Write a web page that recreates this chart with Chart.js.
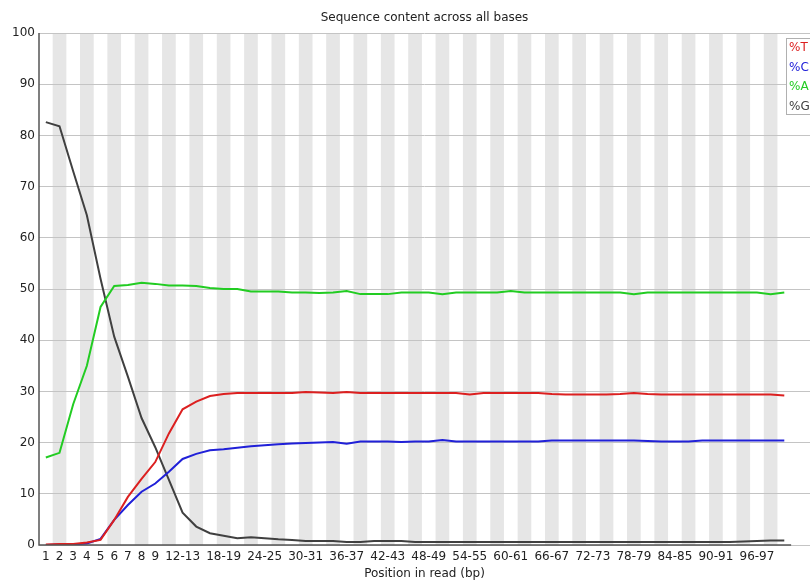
<!DOCTYPE html>
<html>
<head>
<meta charset="utf-8">
<title>Sequence content across all bases</title>
<script src="https://cdn.jsdelivr.net/npm/chart.js@4.4.1/dist/chart.umd.min.js"></script>
<style>
  html, body { margin: 0; padding: 0; background: #fff; }
  #wrap { width: 810px; height: 581px; position: relative; }
</style>
</head>
<body>
<div id="wrap"><canvas id="contentChart"></canvas></div>
<script>
const positions = [
  "1", "2", "3", "4", "5", "6", "7", "8", "9",
  "10-11", "12-13", "14-15", "16-17", "18-19", "20-21", "22-23", "24-25", "26-27", "28-29",
  "30-31", "32-33", "34-35", "36-37", "38-39", "40-41", "42-43", "44-45", "46-47", "48-49",
  "50-51", "52-53", "54-55", "56-57", "58-59", "60-61", "62-63", "64-65", "66-67", "68-69",
  "70-71", "72-73", "74-75", "76-77", "78-79", "80-81", "82-83", "84-85", "86-87", "88-89",
  "90-91", "92-93", "94-95", "96-97", "98-99", "100-101"
];

// positions that get a label on the x axis
const shownTicks = [0, 1, 2, 3, 4, 5, 6, 7, 8, 10, 13, 16, 19, 22, 25, 28, 31, 34, 37, 40, 43, 46, 49, 52];

const yTicks = [0, 10, 20, 30, 40, 50, 60, 70, 80, 90, 100];

const pctT = [
  0.1, 0.2, 0.2, 0.5, 1.0, 4.9, 9.4, 12.9, 16.2, 21.8, 26.5, 28.0, 29.1, 29.5, 29.7, 29.7, 29.7, 29.7, 29.7,
  29.9, 29.8, 29.7, 29.9, 29.7, 29.7, 29.7, 29.7, 29.7, 29.7, 29.7, 29.7, 29.4, 29.7, 29.7, 29.7, 29.7, 29.7,
  29.5, 29.4, 29.4, 29.4, 29.4, 29.5, 29.7, 29.5, 29.4, 29.4, 29.4, 29.4, 29.4, 29.4, 29.4, 29.4, 29.4, 29.2
];
const pctC = [
  0.0, 0.1, 0.1, 0.3, 1.2, 4.9, 7.8, 10.4, 12.0, 14.3, 16.8, 17.8, 18.5, 18.7, 19.0, 19.3, 19.5, 19.7, 19.8,
  19.9, 20.0, 20.1, 19.8, 20.2, 20.2, 20.2, 20.1, 20.2, 20.2, 20.5, 20.2, 20.2, 20.2, 20.2, 20.2, 20.2, 20.2,
  20.4, 20.4, 20.4, 20.4, 20.4, 20.4, 20.4, 20.3, 20.2, 20.2, 20.2, 20.4, 20.4, 20.4, 20.4, 20.4, 20.4, 20.4
];
const pctA = [
  17.1, 18.0, 27.5, 35.0, 46.5, 50.6, 50.8, 51.2, 51.0, 50.7, 50.7, 50.6, 50.2, 50.0, 50.0, 49.5, 49.5, 49.5, 49.3,
  49.3, 49.2, 49.3, 49.6, 49.0, 49.0, 49.0, 49.3, 49.3, 49.3, 49.0, 49.3, 49.3, 49.3, 49.3, 49.6, 49.3, 49.3,
  49.3, 49.3, 49.3, 49.3, 49.3, 49.3, 49.0, 49.3, 49.3, 49.3, 49.3, 49.3, 49.3, 49.3, 49.3, 49.3, 49.0, 49.3
];
const pctG = [
  82.6, 81.8, 73.0, 64.4, 52.0, 40.7, 32.9, 24.8, 19.1, 12.7, 6.3, 3.6, 2.3, 1.8, 1.3, 1.5, 1.3, 1.1, 1.0,
  0.8, 0.8, 0.8, 0.6, 0.6, 0.8, 0.8, 0.8, 0.6, 0.6, 0.6, 0.6, 0.6, 0.6, 0.6, 0.6, 0.6, 0.6,
  0.6, 0.6, 0.6, 0.6, 0.6, 0.6, 0.6, 0.6, 0.6, 0.6, 0.6, 0.6, 0.6, 0.6, 0.7, 0.8, 0.9, 0.9
];

const seriesNames = ["%T", "%C", "%A", "%G"];
const seriesColors = ["#dc2020", "#2020d8", "#22cc22", "#404040"];
const seriesData = [pctT, pctC, pctA, pctG];

const FONT = "'DejaVu Sans', sans-serif";

// grey bands behind every other position, axes, title and the little legend box
const fastqcDecor = {
  id: "fastqcDecor",
  beforeDraw(chart) {
    const { ctx, chartArea, scales } = chart;
    const x = scales.x;
    ctx.save();
    ctx.fillStyle = "#e6e6e6";
    for (let i = 1; i < positions.length; i += 2) {
      const l = x.getPixelForValue(i - 0.5);
      const r = x.getPixelForValue(i + 0.5);
      ctx.fillRect(l, chartArea.top, r - l, chartArea.bottom - chartArea.top);
    }
    ctx.restore();
  },
  afterDraw(chart) {
    const { ctx, chartArea, scales } = chart;
    const x = scales.x;
    ctx.save();
    ctx.strokeStyle = "#555";
    ctx.lineWidth = 1.5;
    ctx.beginPath();
    ctx.moveTo(chartArea.left, chartArea.top);
    ctx.lineTo(chartArea.left, chartArea.bottom);
    ctx.lineTo(x.getPixelForValue(positions.length - 0.5), chartArea.bottom);
    ctx.stroke();

    ctx.fillStyle = "#222";
    ctx.font = "12px " + FONT;
    ctx.textAlign = "center";
    ctx.textBaseline = "middle";
    ctx.fillText("Sequence content across all bases", (chartArea.left + chartArea.right) / 2, 18);

    // legend
    const lx = 786, ly = 38;
    ctx.fillStyle = "#fff";
    ctx.fillRect(lx, ly, 30, 76);
    ctx.strokeStyle = "#b0b0b0";
    ctx.lineWidth = 1;
    ctx.strokeRect(lx + 0.5, ly + 0.5, 30, 76);
    ctx.textAlign = "left";
    seriesNames.forEach((name, i) => {
      ctx.fillStyle = seriesColors[i];
      ctx.fillText(name, lx + 3, ly + 10 + i * 19.5);
    });
    ctx.restore();
  }
};

const ctx = document.getElementById("contentChart").getContext("2d");
new Chart(ctx, {
  type: "line",
  data: {
    datasets: seriesData.map((vals, i) => ({
      label: seriesNames[i],
      data: vals.map((v, j) => ({ x: j, y: v })),
      borderColor: seriesColors[i],
      backgroundColor: seriesColors[i],
      borderWidth: 2,
      pointRadius: 0,
      tension: 0,
      fill: false
    }))
  },
  options: {
    responsive: true,
    maintainAspectRatio: false,
    animation: false,
    layout: { padding: { top: 33, right: 0, left: 0, bottom: 0 } },
    plugins: {
      legend: { display: false },
      title: { display: false },
      tooltip: { enabled: false }
    },
    scales: {
      x: {
        type: "linear",
        min: -0.5,
        max: 55.88,
        afterBuildTicks: scale => {
          scale.ticks = shownTicks.map(v => ({ value: v }));
        },
        afterFit: scale => { scale.height = 36; },
        grid: { display: false, drawTicks: false },
        border: { display: false },
        ticks: {
          autoSkip: false,
          maxRotation: 0,
          padding: 5,
          color: "#222",
          font: { family: FONT, size: 12 },
          callback: v => positions[v]
        },
        title: {
          display: true,
          text: "Position in read (bp)",
          color: "#222",
          font: { family: FONT, size: 12 },
          padding: { top: 0, bottom: 0 }
        }
      },
      y: {
        min: 0,
        max: 100,
        afterBuildTicks: scale => {
          scale.ticks = yTicks.map(v => ({ value: v }));
        },
        afterFit: scale => { scale.width = 39; },
        grid: { color: "#c4c4c4", lineWidth: 1, drawTicks: false },
        border: { display: false },
        ticks: {
          padding: 4,
          color: "#222",
          font: { family: FONT, size: 12 }
        }
      }
    }
  },
  plugins: [fastqcDecor]
});
</script>
</body>
</html>
